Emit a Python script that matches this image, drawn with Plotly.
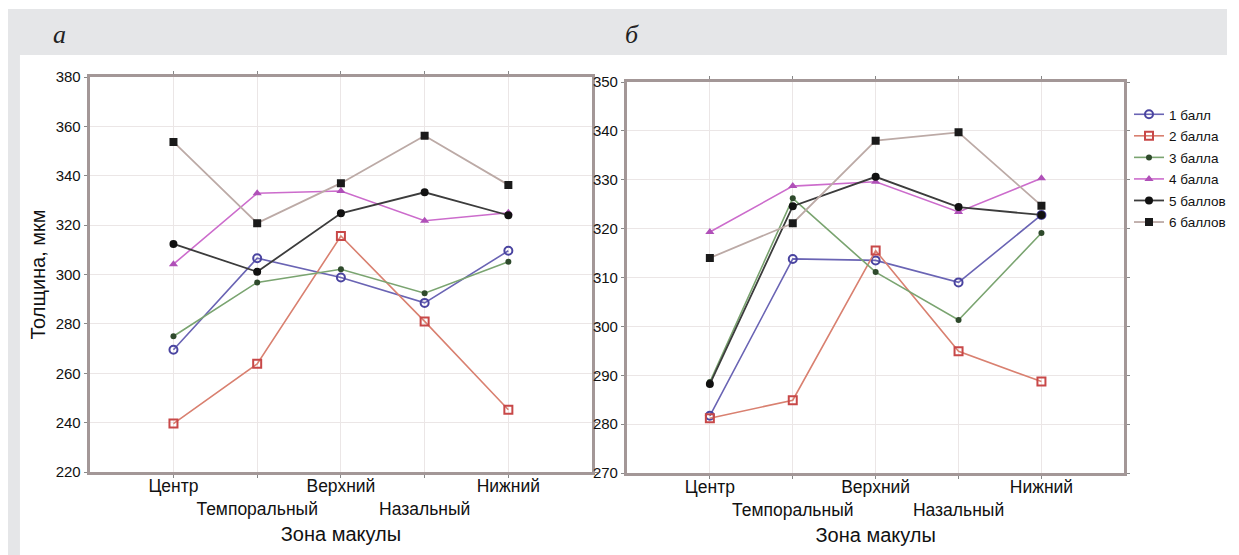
import plotly.graph_objects as go

# page offset (browser body margin) compensation
OFF = 8
W, H = 1239 - 2 * OFF, 555 - OFF

zones = ["Центр", "Темпоральный", "Верхний", "Назальный", "Нижний"]
series_names = ["1 балл", "2 балла", "3 балла", "4 балла", "5 баллов", "6 баллов"]

# Panel a
a_1 = [269.5, 306.6, 298.8, 288.5, 309.6]
a_2 = [239.6, 263.8, 315.6, 281.0, 245.2]
a_3 = [275.0, 296.8, 302.1, 292.4, 305.2]
a_4 = [304.2, 332.9, 333.8, 321.8, 325.0]
a_5 = [312.4, 301.1, 324.8, 333.3, 324.0]
a_6 = [353.7, 320.8, 337.0, 356.2, 336.3]

# Panel b
b_1 = [281.7, 313.8, 313.5, 309.0, 322.8]
b_2 = [281.2, 284.9, 315.5, 294.9, 288.7]
b_3 = [288.6, 326.2, 311.1, 301.3, 319.1]
b_4 = [319.3, 328.7, 329.6, 323.4, 330.3]
b_5 = [288.2, 324.6, 330.6, 324.4, 322.8]
b_6 = [314.0, 321.1, 338.0, 339.7, 324.7]

a_ticks = [220, 240, 260, 280, 300, 320, 340, 360, 380]
b_ticks = [270, 280, 290, 300, 310, 320, 330, 340, 350]

styles = [
    dict(line=dict(color="#6a64b4", width=1.6), marker=dict(symbol="circle-open", size=8, color="#4a44a0", line=dict(width=2))),
    dict(line=dict(color="#d98070", width=1.6), marker=dict(symbol="square-open", size=8, color="#c84848", line=dict(width=2))),
    dict(line=dict(color="#7aa470", width=1.6), marker=dict(symbol="circle", size=6, color="#2f4a2c")),
    dict(line=dict(color="#cc6ccc", width=1.6), marker=dict(symbol="triangle-up", size=8, color="#b050b8")),
    dict(line=dict(color="#3c3c3c", width=1.8), marker=dict(symbol="circle", size=8, color="#111111")),
    dict(line=dict(color="#bcaaa6", width=1.8), marker=dict(symbol="square", size=8, color="#1a1a1a")),
]

fig = go.Figure()
xs = list(range(len(zones)))
for i, (name, ya) in enumerate(zip(series_names, [a_1, a_2, a_3, a_4, a_5, a_6])):
    fig.add_trace(go.Scatter(x=xs, y=ya, mode="lines+markers", name=name, showlegend=False,
                             xaxis="x", yaxis="y", legendgroup=name, **styles[i]))
for i, (name, yb) in enumerate(zip(series_names, [b_1, b_2, b_3, b_4, b_5, b_6])):
    fig.add_trace(go.Scatter(x=xs, y=yb, mode="lines+markers", name=name, showlegend=True,
                             xaxis="x2", yaxis="y2", legendgroup=name, **styles[i]))

ticktext = [("<br>" + z) if k % 2 else z for k, z in enumerate(zones)]


def px_x(p):
    return (p - OFF) / W


def px_y(p):
    return 1 - (p - OFF) / H


font_main = "Liberation Sans, Arial, sans-serif"
axis_line = "#a39797"
grid = "#ebe6e6"

xcommon = dict(range=[-1, 5], tickvals=xs, ticktext=ticktext, tickangle=0, showgrid=True, gridcolor=grid,
               showline=True, linecolor=axis_line, linewidth=3, mirror="ticks", zeroline=False,
               ticks="outside", ticklen=3, tickcolor="#888", tickfont=dict(size=17.5, color="#111"),
               automargin=False,
               title=dict(text="Зона макулы", font=dict(size=20, color="#111"), standoff=10))
ycommon = dict(showgrid=True, gridcolor=grid, showline=True, linecolor=axis_line, linewidth=3,
               mirror="ticks", zeroline=False, ticks="outside", ticklen=3, tickcolor="#888",
               tickfont=dict(size=15, color="#111"), automargin=False)

fig.update_layout(
    width=W, height=H,
    margin=dict(l=0, r=0, t=0, b=0),
    paper_bgcolor="white", plot_bgcolor="white",
    font=dict(family=font_main, color="#111"),
    xaxis=dict(domain=[px_x(90), px_x(594)], anchor="y", **xcommon),
    yaxis=dict(domain=[px_y(472), px_y(77)], anchor="x", range=[220, 380], tickvals=a_ticks,
               title=dict(text="Толщина, мкм", font=dict(size=20, color="#111"), standoff=5), **ycommon),
    xaxis2=dict(domain=[px_x(629), px_x(1128)], anchor="y2", **xcommon),
    yaxis2=dict(domain=[px_y(473), px_y(82)], anchor="x2", range=[270, 350], tickvals=b_ticks, **ycommon),
    legend=dict(x=px_x(1133), y=px_y(99), xanchor="left", yanchor="top",
                bgcolor="rgba(0,0,0,0)", font=dict(size=13.5, color="#111"), tracegroupgap=1),
    shapes=[
        dict(type="rect", xref="paper", yref="paper", x0=0, x1=1, y0=px_y(55), y1=px_y(9),
             fillcolor="#e5e6e8", line=dict(width=0), layer="below"),
        dict(type="rect", xref="paper", yref="paper", x0=0, x1=px_x(20), y0=0, y1=px_y(55),
             fillcolor="#e5e6e8", line=dict(width=0), layer="below"),
    ],
    annotations=[
        dict(text="<i>а</i>", xref="paper", yref="paper", x=px_x(51), y=px_y(18), showarrow=False,
             font=dict(family="Liberation Serif, Times New Roman, serif", size=26, color="#222")),
        dict(text="<i>б</i>", xref="paper", yref="paper", x=px_x(634), y=px_y(18), showarrow=False,
             font=dict(family="Liberation Serif, Times New Roman, serif", size=26, color="#222")),
    ],
)

try:
    fig.update_xaxes(ticklabelstandoff=-7)
except Exception:
    pass

fig.write_html("out.html")
